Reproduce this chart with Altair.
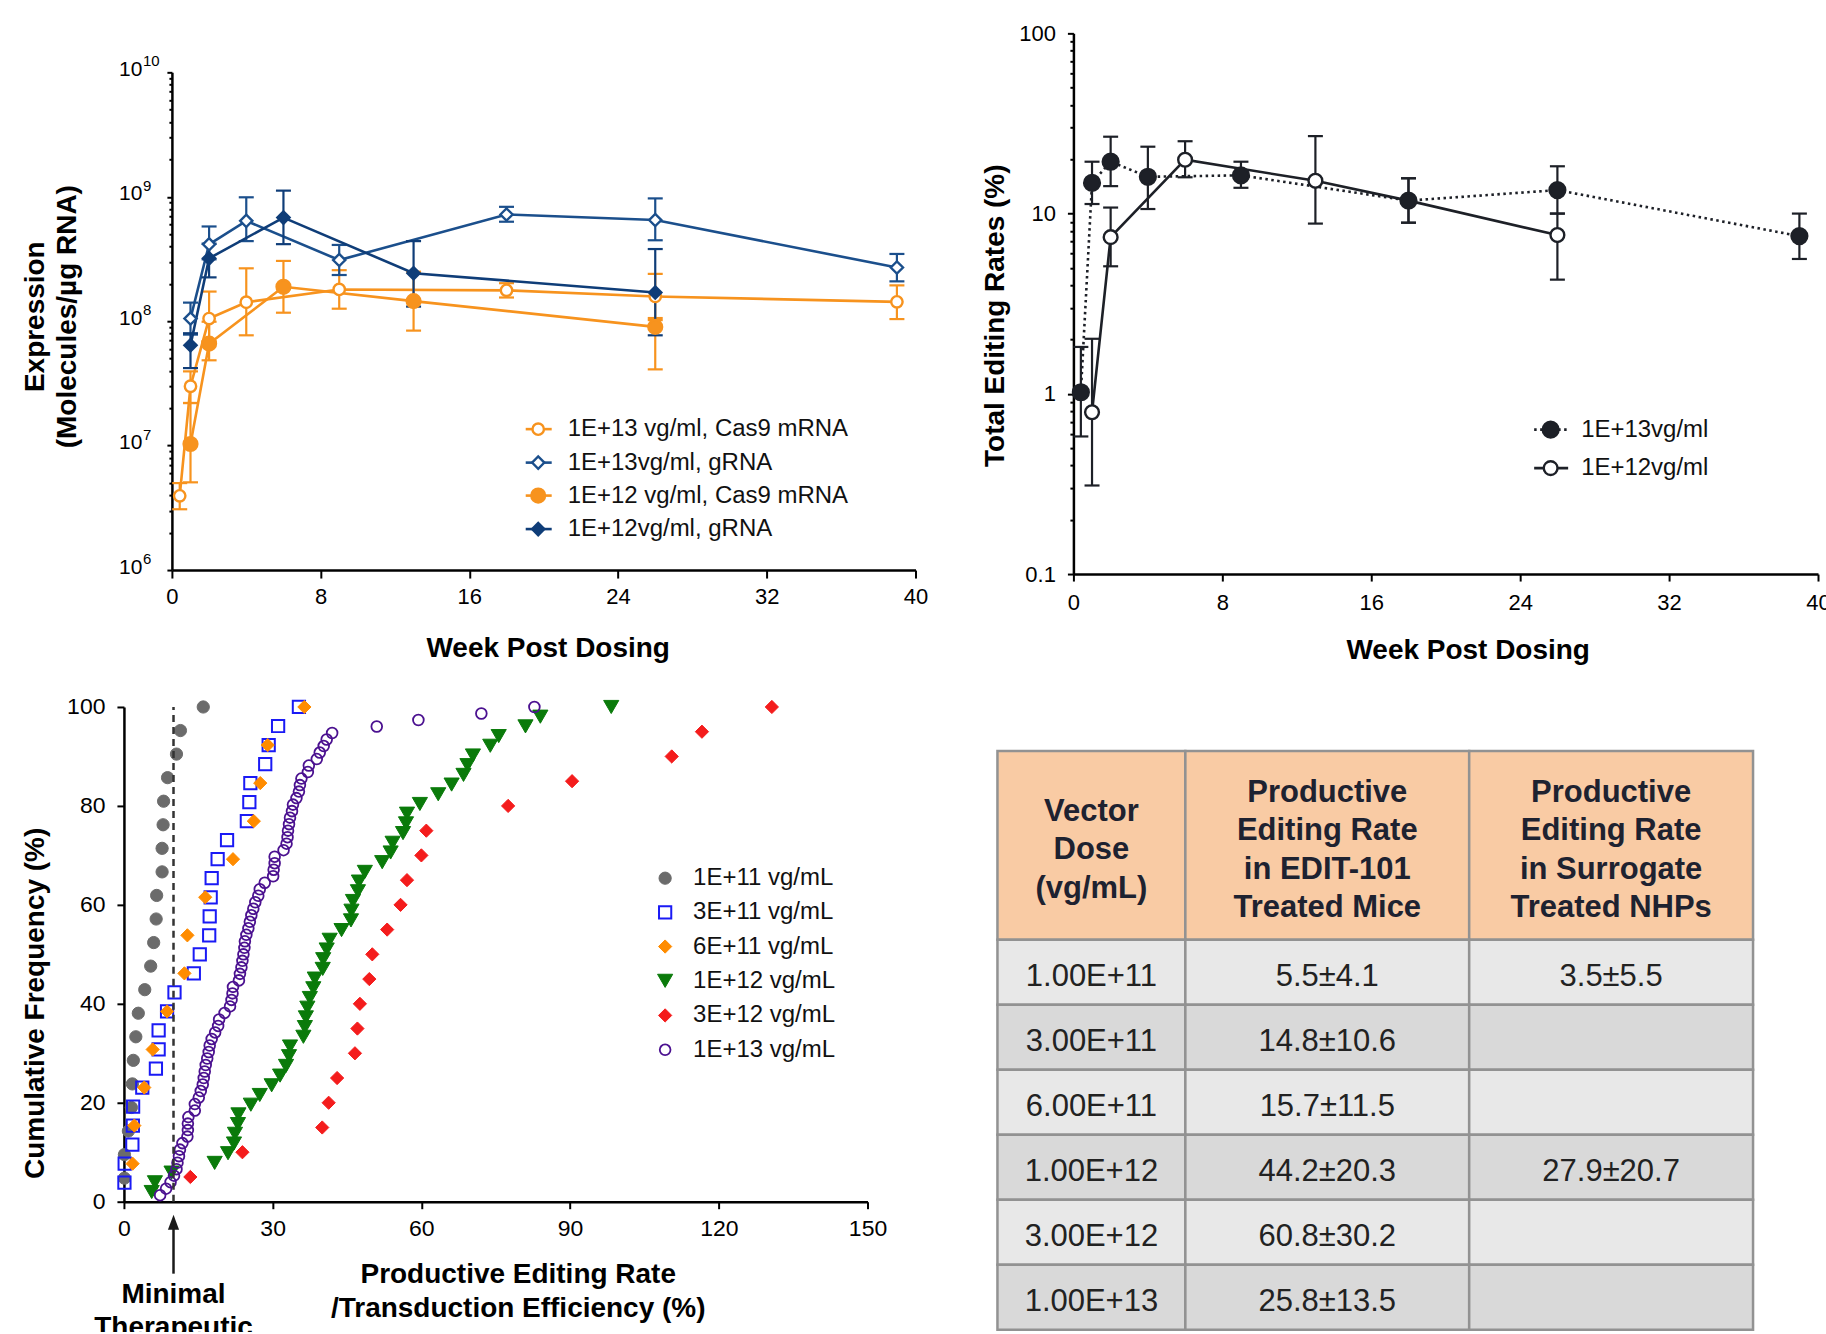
import altair as alt
import pandas as pd

FONT = "Liberation Sans"

# ======================= Panel A : expression over time =======================
A_LABELS = ["1E+13 vg/ml, Cas9 mRNA", "1E+13vg/ml, gRNA",
            "1E+12 vg/ml, Cas9 mRNA", "1E+12vg/ml, gRNA"]
A1_WEEK = [0.42, 1, 2, 4, 9, 18, 26, 39]
A1_MEAN = [3.95e6, 3.0e7, 1.05e8, 1.42e8, 1.8e8, 1.77e8, 1.58e8, 1.43e8]
A1_HI = [5.0e6, 3.95e7, 1.73e8, 2.66e8, 2.57e8, 2.02e8, 2.4e8, 1.94e8]
A1_LO = [3.08e6, 2.2e7, 6.9e7, 7.7e7, 1.26e8, 1.55e8, 1.02e8, 1.04e8]
A2_WEEK = [1, 2, 4, 9, 18, 26, 39]
A2_MEAN = [1.05e8, 4.15e8, 6.4e8, 3.1e8, 7.2e8, 6.5e8, 2.7e8]
A2_HI = [1.41e8, 5.77e8, 9.9e8, 4.1e8, 8.3e8, 9.7e8, 3.47e8]
A2_LO = [7.8e7, 3.14e8, 4.4e8, 2.35e8, 6.3e8, 4.47e8, 2.09e8]
A3_WEEK = [1, 2, 6, 13, 26]
A3_MEAN = [1.03e7, 6.6e7, 1.89e8, 1.45e8, 9.0e7]
A3_HI = [2.2e7, 9.9e7, 3.05e8, 2.5e8, 1.06e8]
A3_LO = [5.07e6, 4.85e7, 1.17e8, 8.4e7, 4.1e7]
A4_WEEK = [1, 2, 6, 13, 26]
A4_MEAN = [6.4e7, 3.2e8, 6.8e8, 2.43e8, 1.7e8]
A4_HI = [8.0e7, 4.2e8, 1.12e9, 4.4e8, 3.8e8]
A4_LO = [4.2e7, 2.25e8, 4.16e8, 1.31e8, 7.7e7]
A_X_TICKS = [0, 8, 16, 24, 32, 40]
A_Y_TICKS = [1e6, 1e7, 1e8, 1e9, 1e10]
A_Y_TICK_BASE = "10"
A_Y_TICK_EXP = ["6", "7", "8", "9", "10"]

# ======================= Panel B : editing over time ==========================
B_LABELS = ["1E+13vg/ml", "1E+12vg/ml"]
B1_WEEK = [0.4, 1, 2, 4, 9, 18, 26, 39]
B1_MEAN = [1.02, 14.8, 19.4, 16.0, 16.3, 11.8, 13.5, 7.5]
B1_HI = [1.82, 19.4, 26.7, 23.5, 19.4, 15.7, 18.3, 10.0]
B1_LO = [0.58, 11.3, 14.2, 10.6, 13.9, 8.9, 10.0, 5.6]
B2_WEEK = [1, 2, 6, 13, 18, 26]
B2_MEAN = [0.79, 7.4, 19.9, 15.2, 11.8, 7.6]
B2_HI = [2.02, 10.8, 25.2, 26.9, 15.7, 10.0]
B2_LO = [0.31, 5.1, 15.9, 8.8, 8.9, 4.3]
B_X_TICKS = [0, 8, 16, 24, 32, 40]
B_Y_TICKS = [0.1, 1, 10, 100]
B_Y_TICK_LABELS = ["0.1", "1", "10", "100"]

# ======================= Panel C : cumulative frequency =======================
C_DOSES = ["1E+11 vg/mL", "3E+11 vg/mL", "6E+11 vg/mL",
           "1E+12 vg/mL", "3E+12 vg/mL", "1E+13 vg/mL"]
C_1E11 = [0.1, 0.1, 0.9, 1.5, 1.7, 1.9, 2.4, 2.9, 4.2, 5.4, 6.0, 6.5, 6.6, 7.7,
          7.7, 7.9, 8.0, 8.8, 10.6, 11.4, 16.0]
C_3E11 = [0.1, 0.15, 1.7, 1.8, 1.85, 3.7, 6.45, 7.0, 7.0, 8.7, 10.2, 14.1, 15.3,
          17.2, 17.3, 17.5, 17.7, 18.9, 20.8, 24.8, 25.3, 25.5, 28.5, 29.2, 31.1, 35.3]
C_6E11 = [1.75, 2.1, 4.1, 5.8, 8.7, 12.2, 12.8, 16.4, 22.0, 26.2, 27.5, 29.0, 36.4]
C_1E12 = [5.6, 6.25, 9.6, 18.3, 21.0, 22.2, 22.4, 23.0, 23.1, 25.6, 27.4, 29.8, 31.5,
          32.7, 33.3, 33.5, 36.2, 36.5, 36.7, 37.0, 37.5, 38.2, 38.5, 40.1, 40.2, 40.9,
          41.5, 43.9, 45.8, 45.9, 46.2, 47.2, 47.4, 48.6, 52.1, 53.8, 54.2, 56.3, 56.9,
          57.1, 59.7, 63.4, 66.1, 68.5, 69.3, 70.4, 73.9, 75.6, 81.0, 84.0, 98.3]
C_3E12 = [13.4, 23.9, 40.0, 41.3, 43.0, 46.6, 47.1, 47.6, 49.5, 50.1, 53.1, 55.8,
          57.1, 60.0, 61.0, 77.5, 90.4, 110.5, 116.6, 130.7]
C_1E13 = [7.3, 8.5, 9.4, 10.1, 10.6, 10.8, 11.1, 11.3, 11.8, 12.8, 12.9, 12.9, 13.0,
          14.3, 14.3, 15.1, 15.5, 15.9, 16.1, 16.3, 16.5, 16.8, 17.1, 17.3, 17.7, 18.4,
          19.0, 19.2, 20.3, 21.4, 21.7, 21.9, 22.0, 23.2, 23.4, 23.7, 23.9, 24.1, 24.3,
          24.4, 24.7, 25.1, 25.4, 25.7, 26.1, 26.5, 27.1, 27.4, 28.4, 30.1, 30.2, 30.4,
          30.4, 32.2, 32.8, 33.0, 33.1, 33.3, 33.5, 33.9, 34.1, 34.8, 35.3, 35.5, 35.8,
          37.1, 37.3, 38.9, 39.5, 40.3, 40.9, 42.0, 51.0, 59.4, 72.1, 82.8]
C_MIN_THERAPEUTIC = 10
C_X_TICKS = [0, 30, 60, 90, 120, 150]
C_Y_TICKS = [0, 20, 40, 60, 80, 100]

# ======================= Table ================================================
T_HEAD = ["Vector\nDose\n(vg/mL)",
          "Productive\nEditing Rate\nin EDIT-101\nTreated Mice",
          "Productive\nEditing Rate\nin Surrogate\nTreated NHPs"]
T_DOSE = ["1.00E+11", "3.00E+11", "6.00E+11", "1.00E+12", "3.00E+12", "1.00E+13"]
T_MICE = ["5.5±4.1", "14.8±10.6", "15.7±11.5", "44.2±20.3", "60.8±30.2", "25.8±13.5"]
T_NHP = ["3.5±5.5", "", "", "27.9±20.7", "", ""]

# ----------------------------------------------------------------------------
def label_expr(vals, labels):
    parts = [f"datum.value == {v!r} ? '{l}'" for v, l in zip(vals, labels)]
    return " : ".join(parts) + " : ''"


def major_test(vals):
    return "indexof([" + ",".join(repr(v) for v in vals) + "], datum.value) >= 0"


def axis(**kw):
    base = dict(grid=False, domainColor="black", domainWidth=2.5, tickColor="black",
                tickWidth=2, labelColor="black", labelFont=FONT, titleFont=FONT,
                titleColor="black", titleFontWeight="bold", titleFontSize=28,
                labelFlush=False, labelOverlap=False)
    base.update(kw)
    return alt.Axis(**base)


def series_df(week, mean, lo, hi):
    return pd.DataFrame({"week": week, "mean": mean, "lo": lo, "hi": hi})


def legend_entry(label, ly, x1, x2, xs, xt, color, fill, shape, size, dash, fsize=24):
    one = pd.DataFrame({"label": [label]})
    b = alt.Chart(one)
    out = []
    line_kw = dict(color=color, strokeWidth=2.6)
    if dash:
        line_kw["strokeDash"] = dash
    out.append(b.mark_rule(**line_kw).encode(
        x=alt.value(x1), x2=alt.value(x2), y=alt.value(ly)))
    out.append(b.mark_point(shape=shape, filled=True, fill=fill, stroke=color,
                            strokeWidth=2.4, size=size, opacity=1).encode(
        x=alt.value(xs), y=alt.value(ly)))
    out.append(b.mark_text(align="left", baseline="middle", font=FONT, fontSize=fsize,
                           color="#111111").encode(
        x=alt.value(xt), y=alt.value(ly), text="label:N"))
    return out


def timecourse(dfs, styles, xscale, yscale, xaxis, yaxis):
    X = alt.X("week:Q", scale=xscale, axis=xaxis)
    layers = []
    for df, st in zip(dfs, styles):
        b = alt.Chart(df)
        c = st["color"]
        layers.append(b.mark_rule(color=c, strokeWidth=2.2).encode(
            x=X, y=alt.Y("lo:Q", scale=yscale, axis=yaxis), y2="hi:Q"))
        for f in ("lo", "hi"):
            layers.append(b.mark_tick(color=c, orient="horizontal", size=15,
                                      thickness=2.2, opacity=1).encode(
                x=X, y=alt.Y(f"{f}:Q", scale=yscale, axis=yaxis)))
        lk = dict(color=c, strokeWidth=2.6)
        if st.get("dash"):
            lk["strokeDash"] = st["dash"]
        layers.append(b.mark_line(**lk).encode(
            x=X, y=alt.Y("mean:Q", scale=yscale, axis=yaxis)))
    for df, st in zip(dfs, styles):
        layers.append(alt.Chart(df).mark_point(
            shape=st["shape"], filled=True, fill=st["fill"], stroke=st["color"],
            strokeWidth=2.4, size=st["size"], opacity=1).encode(
            x=X, y=alt.Y("mean:Q", scale=yscale, axis=yaxis)))
    return layers


# ======================= Panel A build =======================================
A_W, A_H = 744, 498
A_TOP = 39                      # plot starts lower than panel B's
A_VIEW_H = A_H + A_TOP
ORANGE = "#F7931E"
BLUE = "#1B4F8C"
NAVY = "#0F3D78"
a_styles = [
    dict(color=ORANGE, fill="white", shape="circle", size=130),
    dict(color=BLUE, fill="white", shape="diamond", size=150),
    dict(color=ORANGE, fill=ORANGE, shape="circle", size=190),
    dict(color=NAVY, fill=NAVY, shape="diamond", size=150),
]
a_dfs = [series_df(A1_WEEK, A1_MEAN, A1_LO, A1_HI), series_df(A2_WEEK, A2_MEAN, A2_LO, A2_HI),
         series_df(A3_WEEK, A3_MEAN, A3_LO, A3_HI), series_df(A4_WEEK, A4_MEAN, A4_LO, A4_HI)]
A_MINOR = [m * 10 ** k for k in range(6, 10) for m in range(2, 10)]
a_xscale = alt.Scale(domain=[0, 40], nice=False, zero=False)
a_yscale = alt.Scale(type="log", domain=[1e6, 1e10], nice=False, range=[A_VIEW_H, A_TOP])
a_xaxis = axis(values=A_X_TICKS, labelFontSize=22, tickSize=8, labelPadding=8,
               title="Week Post Dosing", titleX=A_W / 2 + 4, titleY=64,
               titleBaseline="top", titleAlign="center", titleAngle=0)
a_yaxis = axis(values=sorted(A_Y_TICKS + A_MINOR),
               labelExpr=label_expr(A_Y_TICKS, [A_Y_TICK_BASE] * len(A_Y_TICKS)),
               labelFontSize=21, labelOffset=-3,
               tickSize={"condition": {"test": major_test(A_Y_TICKS), "value": 5}, "value": 3},
               labelPadding=25, title=["Expression", "(Molecules/µg RNA)"],
               titleLineHeight=32, titleX=-150, titleY=A_TOP + 244, titleAngle=270,
               titleBaseline="top", titleAlign="center")
a_layers = timecourse(a_dfs, a_styles, a_xscale, a_yscale, a_xaxis, a_yaxis)
a_exp = pd.DataFrame({"v": A_Y_TICKS, "exp": A_Y_TICK_EXP})
a_layers.append(alt.Chart(a_exp).mark_text(
    align="left", baseline="middle", font=FONT, fontSize=15, dy=-11, color="black").encode(
    x=alt.value(-29), y=alt.Y("v:Q", scale=a_yscale, axis=a_yaxis), text="exp:N"))
A_LEG_Y = [357, 390.5, 423.5, 457]
for lab, ly, st in zip(A_LABELS, A_LEG_Y, a_styles):
    a_layers += legend_entry(lab, A_TOP + ly, 354, 380, 366.5, 396, st["color"], st["fill"],
                             st["shape"], st["size"], None)
chartA = alt.layer(*a_layers).properties(width=A_W, height=A_VIEW_H)

# ======================= Panel B build =======================================
B_W, B_H = 745, 541
INK = "#1D2027"
b_styles = [
    dict(color=INK, fill=INK, shape="circle", size=250, dash=[2.5, 3.5]),
    dict(color=INK, fill="white", shape="circle", size=190),
]
b_dfs = [series_df(B1_WEEK, B1_MEAN, B1_LO, B1_HI), series_df(B2_WEEK, B2_MEAN, B2_LO, B2_HI)]
B_MINOR = [round(m * 10.0 ** k, 6) for k in (-1, 0, 1) for m in range(2, 10)]
b_xaxis = axis(values=B_X_TICKS, labelFontSize=22, tickSize=7, labelPadding=11,
               title="Week Post Dosing", titleX=B_W / 2 + 22, titleY=62,
               titleBaseline="top", titleAlign="center", titleAngle=0)
b_yaxis = axis(values=sorted(B_Y_TICKS + B_MINOR),
               labelExpr=label_expr(B_Y_TICKS, B_Y_TICK_LABELS), labelFontSize=22,
               tickSize={"condition": {"test": major_test(B_Y_TICKS), "value": 6}, "value": 3.5},
               labelPadding=12, title="Total Editing Rates (%)",
               titleX=-92, titleY=282, titleAngle=270,
               titleBaseline="top", titleAlign="center")
b_layers = timecourse(b_dfs[::-1], b_styles[::-1],
                      alt.Scale(domain=[0, 40], nice=False, zero=False),
                      alt.Scale(type="log", domain=[0.1, 100], nice=False),
                      b_xaxis, b_yaxis)
B_LEG_Y = [396.5, 435]
for lab, ly, st in zip(B_LABELS, B_LEG_Y, b_styles):
    b_layers += legend_entry(lab, ly, 461, 495, 477.5, 508, st["color"], st["fill"],
                             st["shape"], st["size"], st.get("dash"))
chartB = alt.layer(*b_layers).properties(width=B_W, height=B_H)

# ======================= Panel C build =======================================
C_W, C_H = 744, 495
C_SHIFT = 48                    # plot starts left of panel A's plot
C_VIEW_W = C_W - C_SHIFT
c_series = [C_1E11, C_3E11, C_6E11, C_1E12, C_3E12, C_1E13]
c_styles = [
    dict(shape="circle", stroke="#6B6B6B", fill="#6B6B6B", size=150, sw=1),
    dict(shape="square", stroke="#1A1AF5", fill="transparent", size=150, sw=2),
    dict(shape="diamond", stroke="#FF8C00", fill="#FF8C00", size=175, sw=1),
    dict(shape="triangle-down", stroke="#0A7A0A", fill="#0A7A0A", size=230, sw=1),
    dict(shape="diamond", stroke="#F41C1C", fill="#F41C1C", size=175, sw=1),
    dict(shape="circle", stroke="#4B1190", fill="transparent", size=115, sw=1.8),
]
cx_scale = alt.Scale(domain=[0, 150], nice=False, zero=False, range=[-C_SHIFT, C_VIEW_W])
cy_scale = alt.Scale(domain=[0, 100], nice=False, zero=False)
c_xaxis = axis(values=C_X_TICKS, labelFontSize=23, tickSize=7, labelPadding=9,
               title=["Productive Editing Rate", "/Transduction Efficiency (%)"],
               titleLineHeight=34, titleX=394 - C_SHIFT, titleY=59, titleBaseline="top",
               titleAlign="center", titleAngle=0)
c_yaxis = axis(values=C_Y_TICKS, labelFontSize=23, tickSize=7, labelPadding=12,
               offset=C_SHIFT,
               title="Cumulative Frequency (%)", titleX=-102, titleY=296,
               titleAngle=270, titleBaseline="top", titleAlign="center")
CX = alt.X("x:Q", scale=cx_scale, axis=c_xaxis)
c_layers = []
for dose, xs, st in zip(C_DOSES, c_series, c_styles):
    n = len(xs)
    df = pd.DataFrame({"x": xs, "freq": [100.0 * (i + 1) / n for i in range(n)]})
    c_layers.append(alt.Chart(df).mark_point(
        shape=st["shape"], filled=True, fill=st["fill"], stroke=st["stroke"],
        strokeWidth=st["sw"], size=st["size"], opacity=1).encode(
        x=CX, y=alt.Y("freq:Q", scale=cy_scale, axis=c_yaxis)))
thr = pd.DataFrame({"x": [C_MIN_THERAPEUTIC], "lo": [0], "hi": [100],
                    "label": ["Minimal\nTherapeutic"]})
tb = alt.Chart(thr)
c_layers.append(tb.mark_rule(color="#333333", strokeWidth=2.5, strokeDash=[7, 5]).encode(
    x=CX, y=alt.Y("lo:Q", scale=cy_scale, axis=c_yaxis), y2="hi:Q"))
c_layers.append(tb.mark_rule(color="#1a1a1a", strokeWidth=2.5).encode(
    x=CX, y=alt.value(C_H + 26), y2=alt.value(C_H + 72)))
c_layers.append(tb.mark_point(shape="M0,-1L-0.75,1L0.75,1Z", filled=True,
                              color="#1a1a1a", size=225, opacity=1).encode(
    x=CX, y=alt.value(C_H + 20.5)))
c_layers.append(tb.mark_text(lineBreak="\n", font=FONT, fontSize=28, fontWeight="bold",
                             baseline="top", align="center", lineHeight=33,
                             color="black").encode(
    x=CX, y=alt.value(C_H + 79), text="label:N"))
C_LEG_Y = [171.3, 205.5, 239.7, 274, 308.6, 343]
for dose, ly, st in zip(C_DOSES, C_LEG_Y, c_styles):
    one = pd.DataFrame({"label": [dose]})
    c_layers.append(alt.Chart(one).mark_point(
        shape=st["shape"], filled=True, fill=st["fill"], stroke=st["stroke"],
        strokeWidth=st["sw"], size=st["size"], opacity=1).encode(
        x=alt.value(541.5 - C_SHIFT), y=alt.value(ly)))
    c_layers.append(alt.Chart(one).mark_text(
        align="left", baseline="middle", font=FONT, fontSize=24, color="#111111").encode(
        x=alt.value(569.5 - C_SHIFT), y=alt.value(ly), text="label:N"))
chartC = alt.layer(*c_layers).properties(width=C_VIEW_W, height=C_H)

# ======================= Table build =========================================
T_COL_W = [188, 284, 284]
T_HEAD_H = 189
T_ROW_H = 65
T_ML = 2
T_TOP = 44                      # table starts lower than panel C's plot
T_LH = 38.4
edges = [0]
for w in T_COL_W:
    edges.append(edges[-1] + w)
cells = []
for j, h in enumerate(T_HEAD):
    cells.append(dict(x0=edges[j], x1=edges[j + 1], y0=0, y1=T_HEAD_H, kind="head", txt=h))
for i in range(len(T_DOSE)):
    y0 = T_HEAD_H + i * T_ROW_H
    kind = "light" if i % 2 == 0 else "dark"
    for j, val in enumerate([T_DOSE[i], T_MICE[i], T_NHP[i]]):
        cells.append(dict(x0=edges[j], x1=edges[j + 1], y0=y0, y1=y0 + T_ROW_H,
                          kind=kind, txt=val))
cells = pd.DataFrame(cells)
cells["xc"] = (cells.x0 + cells.x1) / 2
nlines = cells.txt.str.count("\n")
cells["yc"] = (cells.y0 + cells.y1) / 2 - nlines * T_LH / 2 + 5
T_TOTAL_H = T_HEAD_H + len(T_DOSE) * T_ROW_H
TW = T_ML + edges[-1] + 3
TH = T_TOP + T_TOTAL_H + 3
txs = alt.Scale(domain=[-T_ML, edges[-1] + 3], nice=False, zero=False)
tys = alt.Scale(domain=[-T_TOP, T_TOTAL_H + 3], nice=False, zero=False, reverse=True)
tbase = alt.Chart(cells)
t_rect = tbase.mark_rect(stroke="#929292", strokeWidth=2.5).encode(
    x=alt.X("x0:Q", scale=txs, axis=None), x2="x1:Q",
    y=alt.Y("y0:Q", scale=tys, axis=None), y2="y1:Q",
    fill=alt.Fill("kind:N", scale=alt.Scale(domain=["head", "light", "dark"],
                                            range=["#F9CBA4", "#E8E8E8", "#D9D9D9"]),
                  legend=None))
t_head = tbase.transform_filter("datum.kind == 'head'").mark_text(
    lineBreak="\n", font=FONT, fontSize=31, fontWeight="bold", lineHeight=T_LH,
    baseline="middle", align="center", color="#1E2230").encode(
    x=alt.X("xc:Q", scale=txs, axis=None), y=alt.Y("yc:Q", scale=tys, axis=None),
    text="txt:N")
t_body = tbase.transform_filter("datum.kind != 'head'").mark_text(
    font=FONT, fontSize=31, baseline="middle", align="center", color="#222222").encode(
    x=alt.X("xc:Q", scale=txs, axis=None), y=alt.Y("yc:Q", scale=tys, axis=None),
    text="txt:N")
table = alt.layer(t_rect, t_head, t_body).properties(width=TW, height=TH)

# ======================= Compose =============================================
top = alt.hconcat(chartA, chartB, spacing=53)
bottom = alt.hconcat(chartC, table, spacing=80)
chart = alt.vconcat(top, bottom, spacing=32).properties(
    padding={"left": 22, "top": 22, "right": -5, "bottom": -10},
    background="white",
).configure_view(stroke=None)

chart.save("out.html", embed_options={"renderer": "svg", "actions": False})
